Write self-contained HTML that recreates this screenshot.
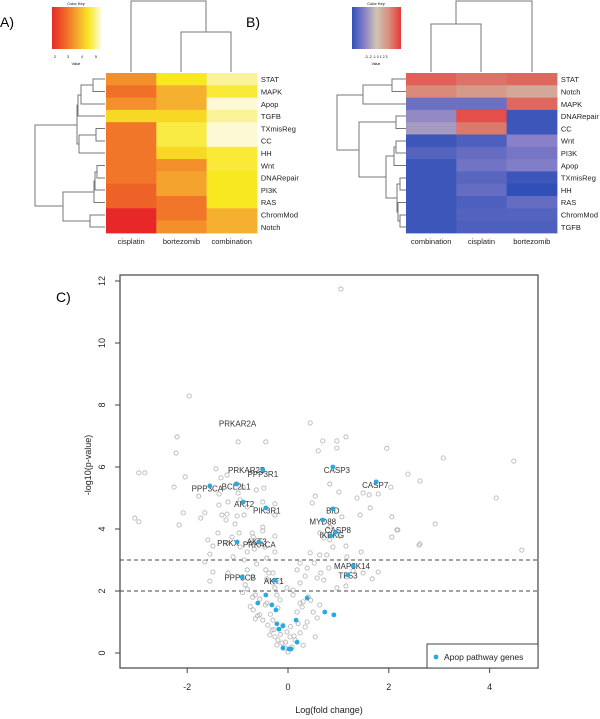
<!DOCTYPE html>
<html><head><meta charset="utf-8"><style>
html,body{margin:0;padding:0;background:#fff}
svg{display:block;font-family:"Liberation Sans",Arial,sans-serif}
</style></head><body>
<svg id="fig" width="600" height="719" viewBox="0 0 600 719" xmlns="http://www.w3.org/2000/svg">
<defs>
<linearGradient id="gA" x1="0" x2="1" y1="0" y2="0">
<stop offset="0" stop-color="#e82828"/><stop offset="0.3" stop-color="#f07028"/><stop offset="0.55" stop-color="#f5b030"/><stop offset="0.75" stop-color="#f8e820"/><stop offset="1" stop-color="#fcfae0"/></linearGradient>
<linearGradient id="gB" x1="0" x2="1" y1="0" y2="0">
<stop offset="0" stop-color="#3050b8"/><stop offset="0.25" stop-color="#8880c8"/><stop offset="0.5" stop-color="#d0c4b4"/><stop offset="0.75" stop-color="#d89080"/><stop offset="1" stop-color="#e83838"/></linearGradient>
</defs>
<text x="0" y="27" font-size="14">A)</text>
<text x="246" y="27" font-size="14">B)</text>
<text x="56" y="302" font-size="14">C)</text>
<g>
<text x="76" y="5" font-size="4" text-anchor="middle">Color Key</text>
<rect x="52" y="7" width="49" height="42" fill="url(#gA)"/>
<text x="54" y="58" font-size="3.5">2</text><text x="67" y="58" font-size="3.5">3</text><text x="81" y="58" font-size="3.5">4</text><text x="95" y="58" font-size="3.5">5</text>
<text x="76" y="65" font-size="3.5" text-anchor="middle">Value</text>
</g>
<g>
<text x="376" y="5" font-size="4" text-anchor="middle">Color Key</text>
<rect x="352" y="7" width="49" height="42" fill="url(#gB)"/>
<text x="376" y="58" font-size="3.5" text-anchor="middle">-3 -2 -1 0 1 2 3</text>
<text x="376" y="65" font-size="3.5" text-anchor="middle">Value</text>
</g>
<g id="hmA"></g>
<g id="hmB"></g>
<g id="dendro" stroke="#777" stroke-width="1" fill="none"></g>
<g id="volcano"></g>
</svg>
<script>
// ---------- Heatmap data ----------
const rowsA = ["STAT","MAPK","Apop","TGFB","TXmisReg","CC","HH","Wnt","DNARepair","PI3K","RAS","ChromMod","Notch"];
const colsA = ["cisplatin","bortezomib","combination"];
const cisA = [3.5,3.0,3.5,4.5,3.1,3.1,3.1,3.1,3.1,2.8,2.8,2.0,2.0];
const borA = [4.7,4.0,4.0,4.5,4.85,4.85,4.5,3.5,3.8,3.8,3.1,3.1,3.5];
const comA = [5.2,4.8,5.45,5.2,5.45,5.45,4.8,4.8,4.7,4.7,4.7,4.0,4.0];
const rowsB = ["STAT","Notch","MAPK","DNARepair","CC","Wnt","PI3K","Apop","TXmisReg","HH","RAS","ChromMod","TGFB"];
const colsB = ["combination","cisplatin","bortezomib"];
const comB = [2.3,1.6,-2.0,-1.3,-0.9,-2.8,-2.4,-2.8,-2.8,-2.8,-2.8,-2.8,-2.8];
const cisB = [2.0,1.2,-2.0,2.6,1.9,-2.5,-2.1,-1.9,-2.3,-2.1,-2.5,-2.4,-2.5];
const borB = [2.2,0.8,2.2,-2.8,-2.8,-1.5,-1.8,-1.6,-2.8,-3.0,-2.1,-2.4,-2.5];

// ---------- Volcano data ----------
const grayX = [1.96,3.08,4.48,2.38,2.62,2.04,4.13,2.06,2.16,2.92,2.62,4.64,-3.04,-2.96,
-1.96,0.44,-2.2,-2.22,-0.99,-0.44,0.69,0.97,1.15,0.6,0.97,-2.96,-2.84,-2.04,-1.43,-1.33,-1.21,-2.26,-1.77,-1.37,-1.01,-0.89,-0.48,-0.63,-0.99,
-1.37,-1.19,-0.95,-0.81,-0.5,-0.26,-0.26,-2.08,-2.16,-1.65,-1.73,-1.31,-1.21,-1.23,-1.01,-0.87,-1.05,-0.5,-0.5,-1.39,-0.97,-0.71,-0.69,-0.26,-1.11,-1.59,-1.49,-1.21,-0.95,-1.09,-1.55,-1.65,-0.81,-0.67,-0.46,-0.26,-0.42,-0.87,-0.62,-0.81,-0.44,-0.38,-0.3,-1.49,-1.19,-1.55,-0.71,-0.42,-0.3,-0.16,-0.81,-0.26,
0.54,0.48,0.83,1.01,1.37,1.49,1.61,1.79,1.63,1.43,1.07,0.83,1.03,1.15,1.45,1.17,0.77,0.63,0.44,0.52,0.24,0.38,0.18,0.81,0.65,0.34,0.58,0.71,1.29,1.17,1.49,1.79,1.67,1.15,0.97,0.24,-0.02,0.1,0.63,0.71,0.83,0.89,2.06,2.6,2.18,1.05,
-0.65,-0.56,-0.42,-0.69,-0.56,-0.65,-0.5,-0.22,-0.16,-0.2,-0.4,-0.32,-0.36,-0.26,-0.2,-0.12,-0.22,-0.06,0,0.08,0.14,0.04,0.24,0.34,0.18,0.28,0.3,0.4,0.24,0.5,0.58,0.54,0.38,-0.02,-0.1,-0.3,0.63,0.1,
-0.9,-0.75,-0.6,-0.35,-0.15,0.05,0.2,-0.05,-0.28,-0.45,0.12,0.3,-0.7,-0.85,0.45];
const grayY = [6.6,6.29,6.19,5.77,5.55,5.35,5.0,4.39,3.97,4.16,3.52,3.32,4.35,4.23,
8.29,7.42,6.97,6.45,6.81,6.81,6.84,6.84,6.97,6.52,6.61,5.81,5.81,5.68,5.94,5.65,5.74,5.35,5.06,5.13,5.45,5.35,5.32,5.26,5.16,
4.77,4.87,4.94,4.71,4.87,4.81,4.45,4.52,4.13,4.52,4.35,4.45,4.48,4.29,4.42,4.45,4.16,4.06,3.94,3.87,3.87,3.87,3.74,3.77,3.74,3.65,3.45,3.55,3.42,3.1,3.19,2.94,3.26,3.35,3.42,3.26,3.06,3.0,2.87,2.68,2.68,2.58,2.58,2.61,2.58,2.32,2.45,2.39,2.26,2.29,2.06,2.1,
5.06,4.84,5.45,5.19,5.0,5.16,5.1,5.13,4.68,4.45,4.39,4.06,3.77,3.45,3.26,3.1,3.16,3.16,3.23,2.9,2.9,2.74,2.68,2.74,2.58,2.48,2.42,2.35,2.65,2.45,2.58,2.61,2.39,2.16,2.1,2.26,2.1,2.03,3.87,3.71,3.65,3.42,3.74,3.48,3.97,11.74,
1.87,1.74,1.61,1.39,1.23,1.1,1.06,1.87,1.71,1.45,0.9,0.74,0.58,0.52,0.42,0.32,0.26,0.16,0.03,0.19,0.42,0.52,0.65,0.84,1.32,1.48,1.65,1.81,1.61,1.32,1.13,0.52,1.0,0.68,0.9,1.06,1.55,1.87,
1.95,1.5,1.2,1.25,0.6,0.85,0.95,0.35,0.75,1.55,0.55,0.25,1.8,2.2,1.7];
const blueX = [-0.44,-0.6,-0.32,-0.24,0.38,0.73,0.91,0.16,-0.22,-0.1,-0.18,0.18,-0.1,0.02,0.06,
-1.03,-1.55,-0.5,-0.89,-0.44,0.89,0.69,0.95,0.85,-1.01,-0.58,1.29,1.19,-0.91,-0.26,1.75,0.89];
const blueY = [1.87,1.61,1.55,1.39,1.77,1.32,1.23,1.06,0.94,0.87,0.77,0.35,0.16,0.13,0.13,
5.45,5.39,5.9,4.87,4.68,4.65,4.29,3.9,3.78,3.58,3.58,2.81,2.52,2.45,2.35,5.52,6.0];
const geneNames = ["PRKAR2A","PRKAR2B","PPP3R1","PPP3CA","BCL2L1","AKT2","PIK3R1","CASP3","CASP7","BID","MYD88","CASP8","IKBKG","PRKX","PRKACA","AKT3","MAP3K14","TP53","PPP3CB","AKT1"];
const geneX = [-1.0,-0.82,-0.5,-1.6,-1.03,-0.87,-0.42,0.97,1.73,0.89,0.69,0.99,0.87,-1.19,-0.57,-0.62,1.27,1.19,-0.95,-0.28];
const geneY = [7.4,5.9,5.77,5.3,5.37,4.8,4.6,5.9,5.42,4.6,4.25,3.97,3.8,3.55,3.5,3.6,2.8,2.5,2.43,2.33];
const xTicks = [-2,0,2,4];
const yTicks = [0,2,4,6,8,10,12];
const thresholds = [2,3];

const NS = "http://www.w3.org/2000/svg";
function mk(tag, attrs, parent){const e=document.createElementNS(NS,tag);for(const k in attrs)e.setAttribute(k,attrs[k]);parent.appendChild(e);return e;}
function hex(c){return [parseInt(c.slice(1,3),16),parseInt(c.slice(3,5),16),parseInt(c.slice(5,7),16)];}
function ramp(stops, v){
  if(v<=stops[0][0]) return stops[0][1];
  for(let i=1;i<stops.length;i++){ if(v<=stops[i][0]){const t=(v-stops[i-1][0])/(stops[i][0]-stops[i-1][0]);const a=hex(stops[i-1][1]),b=hex(stops[i][1]);return "rgb("+a.map((x,j)=>Math.round(x+(b[j]-x)*t)).join(",")+")";}}
  return stops[stops.length-1][1];
}
const stopsA=[[2,"#e82828"],[3,"#f07028"],[4,"#f5b030"],[4.7,"#f8e820"],[5.5,"#fcfae0"]];
const stopsB=[[-3,"#3050b8"],[-1.5,"#8880c8"],[0,"#d0c4b4"],[1.5,"#d89080"],[3,"#e83838"]];

function heatmap(g, x0, rows, cols, series, stops){
  const cw=50.3, rh=12.3, y0=73;
  series.forEach((vals,c)=>{
    vals.forEach((v,r)=>{
      const cell=mk("rect",{x:x0+c*cw,y:y0+r*rh,width:cw+0.5,height:rh+0.5,fill:ramp(stops,v)},g);
      
      
    });
  });
  rows.forEach((n,r)=>{
    const t=mk("text",{x:x0+3*cw+4,y:y0+r*rh+rh/2+3,"font-size":"7.5",fill:"#222"},g);t.textContent=n;
    
    
  });
  cols.forEach((n,c)=>{
    const t=mk("text",{x:x0+c*cw+cw/2,y:244,"font-size":"7.5","text-anchor":"middle",fill:"#222"},g);t.textContent=n;
    
    
  });
}
heatmap(document.getElementById("hmA"),106,rowsA,colsA,[cisA,borA,comA],stopsA);
heatmap(document.getElementById("hmB"),406,rowsB,colsB,[comB,cisB,borB],stopsB);

// dendrograms (structure paths)
const dg=document.getElementById("dendro");
const dpaths=[
 "M131,72V1H206V32M181,72V32H231V72",
 "M105,79H93V91.5H105M105,104H81V85H93M105,116H78V95H81M105,128.5H96V141H105M105,153H79V135H96M78,105H77V144H79M105,165.5H97V178H105M105,190H95V172H97M105,202.5H94V181H95M105,215H90V227H105M94,192H63V221H90M77,125H35V206H63",
 "M431,72V24H481V72M456,24V1H532V72",
 "M406,79H392V91.5H406M406,104H363V85H392M406,116H396V128.5H406M406,141H396V153H406M406,165.5H394V147H396M406,178H400V190H406M406,215H400V227H406M406,202.5H398V221H400M398,212H397V184H400M394,156H386V198H397M396,122H359V177H386M363,95H337V150H359"
];
dpaths.forEach(d=>{const p=mk("path",{d:d},dg);
  
  });

// ---------- Volcano ----------
const vg=document.getElementById("volcano");
const X=v=>288+50.4*v, Y=v=>653-31*v;
const frame=mk("rect",{x:120,y:275,width:418,height:393,fill:"none",stroke:"#444","stroke-width":1.2},vg);


xTicks.forEach(t=>{
  mk("line",{x1:X(t),x2:X(t),y1:668,y2:673,stroke:"#444"},vg);
  const l=mk("text",{x:X(t),y:690,"font-size":"9","text-anchor":"middle",fill:"#222"},vg);l.textContent=t;
  
  
});
yTicks.forEach(t=>{
  mk("line",{x1:115,x2:120,y1:Y(t),y2:Y(t),stroke:"#444"},vg);
  const l=mk("text",{x:105,y:Y(t),"font-size":"9","text-anchor":"middle",fill:"#222",transform:`rotate(-90 105 ${Y(t)})`},vg);l.textContent=t;
  
  
});
const xt=mk("text",{x:329,y:713,"font-size":"9","text-anchor":"middle",fill:"#222"},vg);xt.textContent="Log(fold change)";


const yt=mk("text",{x:91,y:465,"font-size":"9","text-anchor":"middle",fill:"#222",transform:"rotate(-90 91 465)"},vg);yt.textContent="-log10(p-value)";


thresholds.forEach(t=>{
  const l=mk("line",{x1:120,x2:538,y1:Y(t),y2:Y(t),stroke:"#444","stroke-dasharray":"4,3","stroke-width":1.1},vg);
  
  
});
grayX.forEach((x,i)=>{
  const c=mk("circle",{cx:X(x),cy:Y(grayY[i]),r:2.1,fill:"none",stroke:"#b0b0b0","stroke-width":0.8},vg);
  
  
});
geneNames.forEach((n,i)=>{
  const t=mk("text",{x:X(geneX[i]),y:Y(geneY[i])+3,"font-size":"8","text-anchor":"middle",fill:"#333"},vg);t.textContent=n;
  
  
});
blueX.forEach((x,i)=>{
  const c=mk("circle",{cx:X(x),cy:Y(blueY[i]),r:2.4,fill:"#27a9e1"},vg);
  
  
});
const lg=mk("g",{},vg);


mk("rect",{x:427,y:644,width:111,height:24,fill:"#fff",stroke:"#444","stroke-width":1},lg);
mk("circle",{cx:436,cy:657,r:2.4,fill:"#27a9e1"},lg);
const lt=mk("text",{x:444,y:660,"font-size":"8.5",fill:"#222"},lg);lt.textContent="Apop pathway genes";


</script>
</body></html>
